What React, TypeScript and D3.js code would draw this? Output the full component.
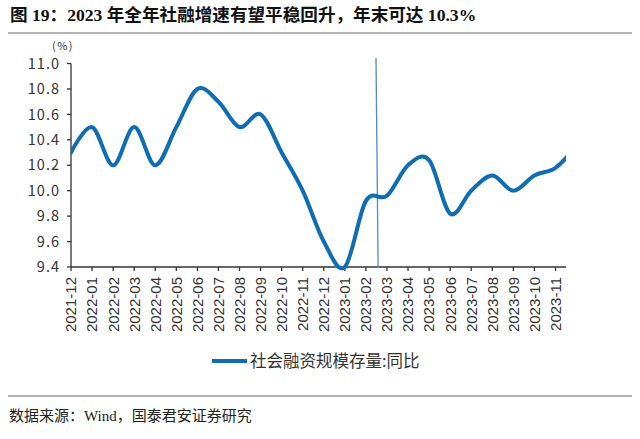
import React from "react";
import * as d3 from "d3";

const months = [
  "2021-12", "2022-01", "2022-02", "2022-03", "2022-04", "2022-05", "2022-06",
  "2022-07", "2022-08", "2022-09", "2022-10", "2022-11", "2022-12", "2023-01",
  "2023-02", "2023-03", "2023-04", "2023-05", "2023-06", "2023-07", "2023-08",
  "2023-09", "2023-10", "2023-11", "2023-12",
];
const tsfYoY = [
  10.3, 10.5, 10.2, 10.5, 10.2, 10.5, 10.8, 10.7, 10.5, 10.6, 10.3, 10.0, 9.6,
  9.4, 9.92, 9.96, 10.2, 10.24, 9.82, 10.0, 10.12, 10.0, 10.12, 10.18, 10.35,
];
const tickLabels = months.slice(0, 24);
const yTicks = [9.4, 9.6, 9.8, 10.0, 10.2, 10.4, 10.6, 10.8, 11.0];
const seriesName = "社会融资规模存量:同比";
const titleText = "图 19：2023 年全年社融增速有望平稳回升，年末可达 10.3%";
const sourceText = "数据来源：Wind，国泰君安证券研究";
const dividerIndex = 14.5;

const W = 640;
const H = 439;
const LEFT = 71;
const RIGHT = 566;
const TOP = 63.5;
const BOTTOM = 267;
const LINE_COLOR = "#0f6db6";

export default function App() {
  const x = d3.scaleLinear().domain([0, 23.5]).range([LEFT, RIGHT]);
  const y = d3.scaleLinear().domain([9.4, 11.0]).range([BOTTOM, TOP]);
  const line = d3
    .line<number>()
    .x((_, i) => x(i))
    .y((d) => y(d))
    .curve(d3.curveCardinal.tension(0));
  const path = line(tsfYoY) || "";

  return (
    <svg
      width={W}
      height={H}
      style={{ position: "absolute", left: 0, top: 0, display: "block", background: "#fff" }}
    >
      <defs>
        <clipPath id="plotClip">
          <rect x={LEFT} y={0} width={RIGHT - LEFT} height={H} />
        </clipPath>
      </defs>
      {/* Title */}
      <text
        x={10}
        y={21}
        fontFamily="'Liberation Serif', 'Noto Sans CJK SC', serif"
        fontWeight="bold"
        fontSize={17.6}
        fill="#111"
      >
        {titleText}
      </text>
      <line x1={8} x2={632} y1={33} y2={33} stroke="#9a9a9a" strokeWidth={1.5} />

      {/* unit */}
      <text
        x={63}
        y={50}
        textAnchor="middle"
        fontFamily="'Noto Sans CJK SC', sans-serif"
        fontSize={11}
        letterSpacing={1.5}
        fill="#333"
      >
        (%)
      </text>

      {/* Y axis */}
      <line x1={LEFT} x2={LEFT} y1={TOP} y2={BOTTOM} stroke="#333" strokeWidth={1.3} />
      {yTicks.map((t) => (
        <g key={t}>
          <line x1={LEFT - 4} x2={LEFT} y1={y(t)} y2={y(t)} stroke="#333" strokeWidth={1.3} />
          <text
            x={LEFT - 11}
            y={y(t)}
            dy="0.36em"
            textAnchor="end"
            fontFamily="'Noto Sans CJK SC', sans-serif"
            fontSize={14.5}
            letterSpacing={1}
            fill="#333"
          >
            {t.toFixed(1)}
          </text>
        </g>
      ))}

      {/* X axis */}
      <line x1={LEFT} x2={RIGHT} y1={BOTTOM} y2={BOTTOM} stroke="#333" strokeWidth={1.3} />
      {tickLabels.map((m, i) => (
        <g key={m}>
          <line x1={x(i)} x2={x(i)} y1={BOTTOM} y2={BOTTOM + 4} stroke="#333" strokeWidth={1.3} />
          <text
            transform={`translate(${x(i)},${BOTTOM + 10}) rotate(-90)`}
            dy="0.36em"
            textAnchor="end"
            fontFamily="'Liberation Sans', Arial, sans-serif"
            fontSize={15}
            fill="#333"
          >
            {m}
          </text>
        </g>
      ))}

      {/* Divider */}
      <line
        x1={x(dividerIndex - 0.02)}
        x2={x(dividerIndex + 0.08)}
        y1={58}
        y2={BOTTOM + 1}
        stroke="#5a86c4"
        strokeWidth={1.3}
      />

      {/* Series */}
      <path
        d={path}
        fill="none"
        stroke={LINE_COLOR}
        strokeWidth={4}
        strokeLinecap="round"
        clipPath="url(#plotClip)"
      />

      {/* Legend */}
      <line x1={212} x2={247} y1={361} y2={361} stroke={LINE_COLOR} strokeWidth={4} />
      <text
        x={250}
        y={361}
        dy="0.36em"
        fontFamily="'Noto Sans CJK SC', sans-serif"
        fontSize={16.5}
        fill="#333"
      >
        {seriesName}
      </text>

      {/* Source */}
      <line x1={8} x2={632} y1={396} y2={396} stroke="#9a9a9a" strokeWidth={1.5} />
      <text
        x={9}
        y={421}
        fontFamily="'Liberation Serif', 'Noto Sans CJK SC', serif"
        fontSize={15}
        fill="#222"
      >
        {sourceText}
      </text>
    </svg>
  );
}
